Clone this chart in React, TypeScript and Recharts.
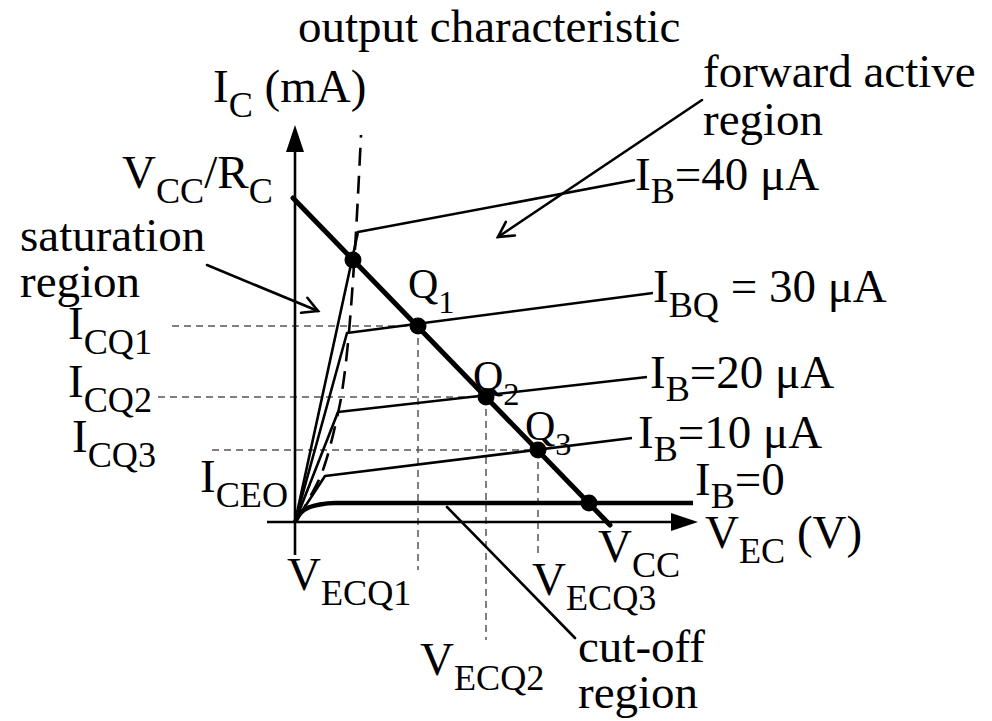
import React from "react"
import { ComposedChart, Line, XAxis, YAxis, ReferenceLine, ReferenceDot, Customized } from "recharts"

// drawing units: 1 unit = 1 px, origin of the V_EC / I_C axes at (295, 522)
const X_DOMAIN = [-295, 697]
const Y_DOMAIN = [-199, 522]

// output characteristic curves, one per base current
const ib0 = [
  { x: 0, y: 0 }, { x: 4, y: 7 }, { x: 9, y: 12 }, { x: 15, y: 15 },
  { x: 25, y: 17.5 }, { x: 40, y: 19 }, { x: 398, y: 19 },
]
const ib10 = [{ x: 0, y: 0 }, { x: 30, y: 46 }, { x: 337, y: 84 }]
const ib20 = [{ x: 0, y: 0 }, { x: 43, y: 110 }, { x: 352, y: 145 }]
const ib30 = [{ x: 0, y: 0 }, { x: 52, y: 189 }, { x: 358, y: 229 }]
const ib40 = [{ x: 0, y: 0 }, { x: 63, y: 290 }, { x: 340, y: 342 }]

// edge of the saturation region
const satEdge = [
  { x: 2, y: 2 }, { x: 15, y: 25 }, { x: 29, y: 55 }, { x: 41, y: 100 },
  { x: 47, y: 130 }, { x: 54, y: 190 }, { x: 61, y: 290 }, { x: 66, y: 387 },
]

// load line from V_CC/R_C down to V_CC
const loadLine = [{ x: -2, y: 324 }, { x: 315, y: -3 }]

// operating points on the load line
const qPoints = [
  { x: 58, y: 262 },
  { x: 123, y: 196 },
  { x: 191, y: 125 },
  { x: 243, y: 72 },
  { x: 294, y: 19 },
]

// projections of Q1..Q3 onto the axes
const hGuides = [
  { from: -123, to: 123, y: 196 },
  { from: -137, to: 191, y: 125 },
  { from: -83, to: 243, y: 72 },
]
const vGuides = [
  { x: 123, from: 196, to: -48 },
  { x: 191, from: 125, to: -118 },
  { x: 243, from: 72, to: -31 },
]

// pointer lines for the region names
const pointers = [
  { a: { x: 407, y: 422 }, b: { x: 203, y: 285 }, head: true },
  { a: { x: -88, y: 257 }, b: { x: 23, y: 211 }, head: true },
  { a: { x: 152, y: 15 }, b: { x: 280, y: -116 }, head: false },
]

const FONT = '"Liberation Serif", "Times New Roman", serif'

type Part = [string, boolean?]
type Lbl = { x: number; y: number; parts: Part[]; size?: number; shift?: number }

const labels: Lbl[] = [
  { x: 298, y: 42, parts: [["output characteristic"]] },
  { x: 213, y: 102, parts: [["I"], ["C", true], [" (mA)"]] },
  { x: 703, y: 87, parts: [["forward active"]] },
  { x: 703, y: 135, parts: [["region"]] },
  { x: 122, y: 188, parts: [["V"], ["CC", true], ["/R"], ["C", true]] },
  { x: 635, y: 190, parts: [["I"], ["B", true], ["=40 μA"]], shift: 13 },
  { x: 20, y: 251, parts: [["saturation"]] },
  { x: 20, y: 297, parts: [["region"]] },
  { x: 408, y: 298, parts: [["Q"], ["1", true]], size: 42 },
  { x: 653, y: 302, parts: [["I"], ["BQ", true], [" = 30 μA"]] },
  { x: 68, y: 339, parts: [["I"], ["CQ1", true]] },
  { x: 473, y: 390, parts: [["Q"], ["2", true]], size: 42 },
  { x: 650, y: 388, parts: [["I"], ["B", true], ["=20 μA"]], shift: 13 },
  { x: 68, y: 397, parts: [["I"], ["CQ2", true]] },
  { x: 525, y: 440, parts: [["Q"], ["3", true]], size: 42 },
  { x: 638, y: 448, parts: [["I"], ["B", true], ["=10 μA"]], shift: 13 },
  { x: 72, y: 452, parts: [["I"], ["CQ3", true]] },
  { x: 200, y: 492, parts: [["I"], ["CEO", true]] },
  { x: 695, y: 495, parts: [["I"], ["B", true], ["=0"]], shift: 13 },
  { x: 705, y: 548, parts: [["V"], ["EC", true], [" (V)"]] },
  { x: 598, y: 562, parts: [["V"], ["CC", true]] },
  { x: 287, y: 590, parts: [["V"], ["ECQ1", true]] },
  { x: 532, y: 595, parts: [["V"], ["ECQ3", true]] },
  { x: 420, y: 675, parts: [["V"], ["ECQ2", true]] },
  { x: 578, y: 662, parts: [["cut-off"]] },
  { x: 578, y: 708, parts: [["region"]] },
]

function TextLabel({ x, y, parts, size = 47, shift = 15 }: Lbl) {
  let low = false
  return (
    <text x={x} y={y} fontFamily={FONT} fontSize={size} fill="#000">
      {parts.map(([t, sub], i) => {
        let dy = 0
        if (sub && !low) dy = shift
        if (!sub && low) dy = -shift
        low = !!sub
        return (
          <tspan key={i} dy={dy} fontSize={sub ? size * 0.77 : size}>
            {t}
          </tspan>
        )
      })}
    </text>
  )
}

function Labels() {
  return (
    <g>
      {labels.map((l, i) => (
        <TextLabel key={i} {...l} />
      ))}
    </g>
  )
}

// axis line ending in a filled triangle
function AxisArrow(props: any) {
  const { x1, y1, x2, y2 } = props
  const ang = Math.atan2(y2 - y1, x2 - x1)
  const len = 27
  const half = 9
  const bx = x2 - len * Math.cos(ang)
  const by = y2 - len * Math.sin(ang)
  const px = -Math.sin(ang) * half
  const py = Math.cos(ang) * half
  return (
    <g>
      <line x1={x1} y1={y1} x2={bx} y2={by} stroke="#000" strokeWidth={2.6} />
      <polygon points={`${x2},${y2} ${bx + px},${by + py} ${bx - px},${by - py}`} fill="#000" />
    </g>
  )
}

// thin pointer, optionally with an open arrow head
function Pointer(head: boolean) {
  return (props: any) => {
    const { x1, y1, x2, y2 } = props
    const ang = Math.atan2(y2 - y1, x2 - x1)
    const arm = 17
    const spread = 0.5
    const a1 = ang + Math.PI - spread
    const a2 = ang + Math.PI + spread
    return (
      <g stroke="#000" strokeWidth={2.6} fill="none" strokeLinecap="round">
        <line x1={x1} y1={y1} x2={x2} y2={y2} />
        {head && (
          <polyline
            points={`${x2 + arm * Math.cos(a1)},${y2 + arm * Math.sin(a1)} ${x2},${y2} ${x2 + arm * Math.cos(a2)},${y2 + arm * Math.sin(a2)}`}
          />
        )}
      </g>
    )
  }
}

const curve = (data: { x: number; y: number }[], width: number, type: any = "linear", dash?: string) => (
  <Line
    data={data}
    dataKey="y"
    type={type}
    stroke="#000"
    strokeWidth={width}
    strokeDasharray={dash}
    dot={false}
    activeDot={false}
    isAnimationActive={false}
    strokeLinejoin="round"
  />
)

export default function App() {
  return (
    <div style={{ position: "absolute", left: 0, top: 0, background: "#fff" }}>
      <ComposedChart width={992} height={721} margin={{ top: 0, right: 0, bottom: 0, left: 0 }}>
        <XAxis type="number" dataKey="x" domain={X_DOMAIN} allowDataOverflow hide />
        <YAxis type="number" domain={Y_DOMAIN} allowDataOverflow hide />

        {hGuides.map((g, i) => (
          <ReferenceLine
            key={"h" + i}
            segment={[{ x: g.from, y: g.y }, { x: g.to, y: g.y }]}
            stroke="#555"
            strokeWidth={1.5}
            strokeDasharray="7 5"
          />
        ))}
        {vGuides.map((g, i) => (
          <ReferenceLine
            key={"v" + i}
            segment={[{ x: g.x, y: g.from }, { x: g.x, y: g.to }]}
            stroke="#555"
            strokeWidth={1.5}
            strokeDasharray="7 5"
          />
        ))}

        <ReferenceLine segment={[{ x: -28, y: 0 }, { x: 403, y: 0 }]} shape={AxisArrow} />
        <ReferenceLine segment={[{ x: 0, y: -33 }, { x: 0, y: 397 }]} shape={AxisArrow} />

        {curve(satEdge, 2.6, "monotone", "18 10")}
        {curve(ib10, 2.6)}
        {curve(ib20, 2.6)}
        {curve(ib30, 2.6)}
        {curve(ib40, 2.6)}
        {curve(ib0, 4.5, "monotone")}
        <Line
          data={loadLine}
          dataKey="y"
          stroke="#000"
          strokeWidth={5}
          strokeLinecap="round"
          dot={false}
          activeDot={false}
          isAnimationActive={false}
        />

        {pointers.map((p, i) => (
          <ReferenceLine key={"p" + i} segment={[p.a, p.b]} shape={Pointer(p.head)} />
        ))}

        {qPoints.map((q, i) => (
          <ReferenceDot key={"q" + i} x={q.x} y={q.y} r={8.5} fill="#000" stroke="none" />
        ))}

        <Customized component={Labels} />
      </ComposedChart>
    </div>
  )
}
